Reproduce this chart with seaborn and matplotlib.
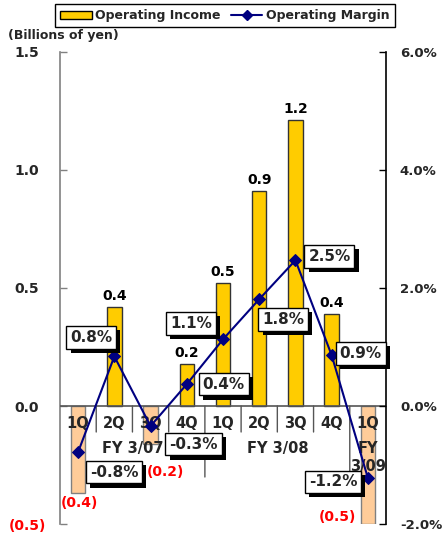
import matplotlib
matplotlib.use("Agg")
import matplotlib.pyplot as plt
import matplotlib.patheffects as pe
from matplotlib.patches import Patch
from matplotlib.lines import Line2D
import numpy as np
import pandas as pd
import seaborn as sns

# Quarterly results
quarters = ["1Q", "2Q", "3Q", "4Q", "1Q", "2Q", "3Q", "4Q", "1Q"]
fiscal_years = ["FY 3/07"] * 4 + ["FY 3/08"] * 4 + ["FY\n3/09"]
operating_income = [-0.37, 0.42, -0.16, 0.18, 0.52, 0.91, 1.21, 0.39, -0.50]   # billions of yen
operating_margin = [-0.78, 0.84, -0.34, 0.37, 1.13, 1.81, 2.47, 0.86, -1.22]   # percent

income_ticks = [-0.5, 0.0, 0.5, 1.0, 1.5]
margin_ticks = [-2.0, 0.0, 2.0, 4.0, 6.0]

POS_COLOR = "#FFCC00"
NEG_COLOR = "#FFCC99"
LINE_COLOR = "#000080"
RED = "#FF0000"

sns.set_theme(style="white")
plt.rcParams["font.family"] = ["DejaVu Sans"]
plt.rcParams["font.weight"] = "bold"

W, H = 443, 535
fig = plt.figure(figsize=(W / 100, H / 100), dpi=100)
ax = fig.add_axes([60 / W, 1 - 524 / H, (386 - 60) / W, (524 - 52) / H])

n = len(quarters)
df = pd.DataFrame({
    "pos": np.arange(n),
    "income": operating_income,
    "margin": operating_margin,
    "sign": ["neg" if v < 0 else "pos" for v in operating_income],
})

sns.barplot(data=df, x="pos", y="income", hue="sign",
            palette={"pos": POS_COLOR, "neg": NEG_COLOR}, saturation=1,
            dodge=False, width=0.4, legend=False, ax=ax, zorder=2)
for bar in ax.patches:
    neg = bar.get_height() < 0
    bar.set_edgecolor("#808080" if neg else "#333333")
    bar.set_linewidth(1.0)

ax.set_xlim(-0.5, n - 0.5)
ax.set_ylim(income_ticks[0], income_ticks[-1])
ax.axhline(0, color="#555555", lw=1.2, zorder=3)

# category separators below the zero line; longer ones between fiscal years
for i in range(n - 1):
    long_sep = fiscal_years[i] != fiscal_years[i + 1]
    depth = 71 if long_sep else 26
    ax.annotate("", xy=(i + 0.5, 0), xytext=(0, -depth), textcoords="offset pixels",
                arrowprops=dict(arrowstyle="-", color="#555555", lw=1,
                                shrinkA=0, shrinkB=0))

# quarter labels
for i, q in enumerate(quarters):
    ax.annotate(q, xy=(i, 0), xytext=(0, -17), textcoords="offset pixels",
                ha="center", va="center", fontsize=10.5, fontweight="bold", zorder=4)

# fiscal year labels centred under their quarters
years_seen = []
for fy in fiscal_years:
    if fy not in years_seen:
        years_seen.append(fy)
for fy in years_seen:
    idx = [i for i, f in enumerate(fiscal_years) if f == fy]
    ax.annotate(fy, xy=(np.mean(idx), 0), xytext=(0, -35), textcoords="offset pixels",
                ha="center", va="top", fontsize=10.5, fontweight="bold",
                linespacing=1.25, zorder=4)

# income value labels
neg_offsets = {0: (1, -10), 2: (15, -28), 8: (-30, 7)}
for i, v in enumerate(operating_income):
    if v >= 0:
        ax.annotate(f"{v:.1f}", xy=(i, v), xytext=(0, 7), textcoords="offset pixels",
                    ha="center", va="baseline", fontsize=10, fontweight="bold",
                    color="black", zorder=4)
    else:
        dx, dy = neg_offsets.get(i, (0, -10))
        ax.annotate(f"({abs(v):.1f})", xy=(i, v), xytext=(dx, dy), textcoords="offset pixels",
                    ha="center", va="center", fontsize=10, fontweight="bold",
                    color=RED, zorder=4)

# left axis
ax.set_yticks(income_ticks,
              labels=[f"({abs(t):.1f})" if t < 0 else f"{t:.1f}" for t in income_ticks])
ax.tick_params(axis="y", direction="in", length=5, width=1, color="#808080",
               pad=23.8, labelsize=10, left=True, right=False)
for lbl, t in zip(ax.get_yticklabels(), income_ticks):
    lbl.set_horizontalalignment("center")
    lbl.set_fontweight("bold")
    if t < 0:
        lbl.set_color(RED)
ax.set_xticks([])
ax.set_xlabel("")
ax.set_ylabel("")
for side in ["top", "bottom", "right"]:
    ax.spines[side].set_visible(False)
ax.spines["left"].set_color("#808080")
ax.spines["left"].set_linewidth(1.2)

# margin line on the secondary axis
ax2 = ax.twinx()
sns.lineplot(data=df, x="pos", y="margin", ax=ax2, color=LINE_COLOR, lw=1.5,
             marker="D", markersize=6, markeredgecolor=LINE_COLOR, zorder=3)
ax2.set_xlim(-0.5, n - 0.5)
ax2.set_ylim(margin_ticks[0], margin_ticks[-1])
ax2.set_yticks(margin_ticks, labels=[f"{t:.1f}%" for t in margin_ticks])
ax2.tick_params(axis="y", direction="in", length=5, width=1, color="black",
                pad=10, labelsize=9.5, right=True, left=False)
for lbl in ax2.get_yticklabels():
    lbl.set_fontweight("bold")
ax2.set_xlabel("")
ax2.set_ylabel("")
ax2.set_xticks([])
for side in ["top", "bottom", "left"]:
    ax2.spines[side].set_visible(False)
ax2.spines["right"].set_color("black")
ax2.spines["right"].set_linewidth(1.2)

# boxed margin labels with drop shadow
box_offsets = [(36, 20), (-23, -19), (43, 18), (37, 0), (-32, -16),
               (24, 20), (34, -4), (29, -2), (-35, 4)]
for i, (m, (dx, dy)) in enumerate(zip(operating_margin, box_offsets)):
    t = ax2.annotate(f"{m:.1f}%", xy=(i, m), xytext=(dx, -dy), textcoords="offset pixels",
                     ha="center", va="center", fontsize=11, fontweight="bold", zorder=6,
                     bbox=dict(boxstyle="square,pad=0.25", fc="white", ec="black", lw=1))
    t.get_bbox_patch().set_path_effects([
        pe.SimplePatchShadow(offset=(3, -3), shadow_rgbFace="black", alpha=1.0),
        pe.Normal(),
    ])

fig.text(8 / W, 1 - 36 / H, "(Billions of yen)", ha="left", va="center",
         fontsize=9, fontweight="bold")

handles = [
    Patch(facecolor=POS_COLOR, edgecolor="black", label="Operating Income"),
    Line2D([], [], color=LINE_COLOR, lw=1.5, marker="D", markersize=5,
           label="Operating Margin"),
]
fig.legend(handles=handles, loc="upper center", bbox_to_anchor=(225 / W, 1 - 4 / H),
           ncol=2, frameon=True, fancybox=False, edgecolor="black", framealpha=1,
           prop={"size": 9, "weight": "bold"}, handlelength=2.5, handleheight=0.6,
           columnspacing=0.8, handletextpad=0.3, borderpad=0.4, borderaxespad=0)

fig.savefig("out.png", dpi=100)
